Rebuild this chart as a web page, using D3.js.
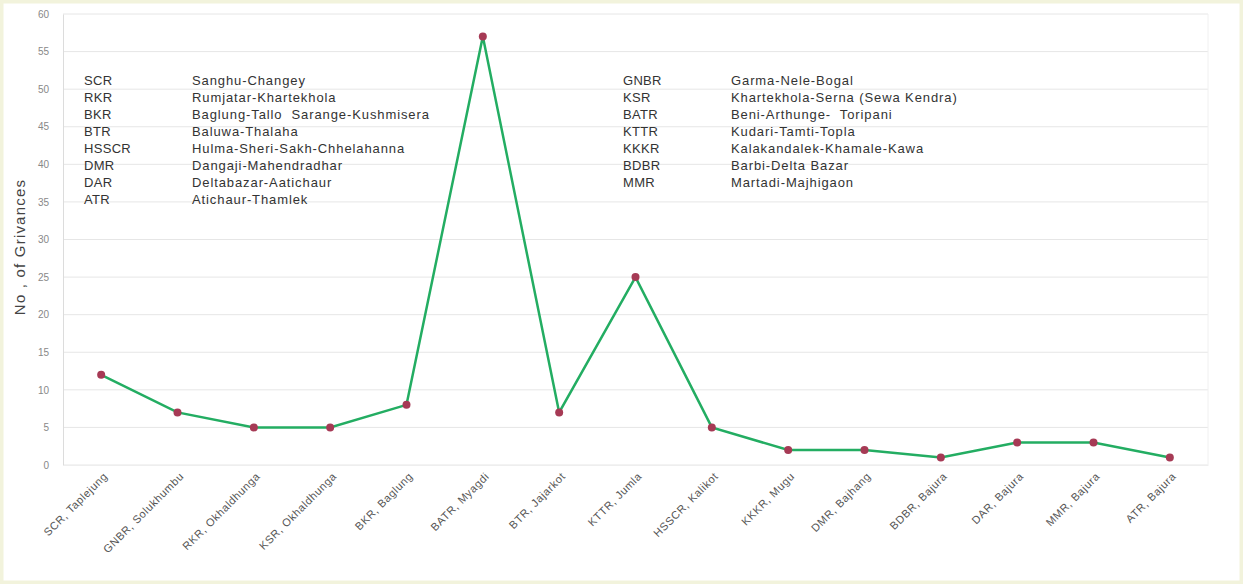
<!DOCTYPE html>
<html>
<head>
<meta charset="utf-8">
<script src="https://cdn.jsdelivr.net/npm/d3@7"></script>
<style>
  body { margin: 0; background: #fff; }
  svg { display: block; font-family: "Liberation Sans", Arial, sans-serif; }
</style>
</head>
<body>
<div id="chart"></div>
<script>
const categories = ["SCR, Taplejung", "GNBR, Solukhumbu", "RKR, Okhaldhunga", "KSR, Okhaldhunga",
  "BKR, Baglung", "BATR, Myagdi", "BTR, Jajarkot", "KTTR, Jumla", "HSSCR, Kalikot",
  "KKKR, Mugu", "DMR, Bajhang", "BDBR, Bajura", "DAR, Bajura", "MMR, Bajura", "ATR, Bajura"];
const grievances = [12, 7, 5, 5, 8, 57, 7, 25, 5, 2, 2, 1, 3, 3, 1];
const yTicks = [0, 5, 10, 15, 20, 25, 30, 35, 40, 45, 50, 55, 60];

const leftCodes = ["SCR", "RKR", "BKR", "BTR", "HSSCR", "DMR", "DAR", "ATR"];
const leftNames = ["Sanghu-Changey", "Rumjatar-Khartekhola", "Baglung-Tallo  Sarange-Kushmisera",
  "Baluwa-Thalaha", "Hulma-Sheri-Sakh-Chhelahanna", "Dangaji-Mahendradhar",
  "Deltabazar-Aatichaur", "Atichaur-Thamlek"];
const rightCodes = ["GNBR", "KSR", "BATR", "KTTR", "KKKR", "BDBR", "MMR"];
const rightNames = ["Garma-Nele-Bogal", "Khartekhola-Serna (Sewa Kendra)", "Beni-Arthunge-  Toripani",
  "Kudari-Tamti-Topla", "Kalakandalek-Khamale-Kawa", "Barbi-Delta Bazar", "Martadi-Majhigaon"];

const width = 1243, height = 584;
const margin = {top: 14, right: 35, bottom: 119, left: 63};

const svg = d3.select("#chart").append("svg")
  .attr("width", width)
  .attr("height", height);

// outer frame
svg.append("rect")
  .attr("x", 1.5).attr("y", 1.5)
  .attr("width", width - 3).attr("height", height - 3)
  .attr("fill", "#fff")
  .attr("stroke", "#f2f3dc")
  .attr("stroke-width", 4);

const x = d3.scaleBand()
  .domain(categories)
  .range([margin.left, width - margin.right]);

const y = d3.scaleLinear()
  .domain([0, 60])
  .range([height - margin.bottom, margin.top]);

// gridlines
svg.append("g")
  .selectAll("line")
  .data(yTicks)
  .enter()
  .append("line")
  .attr("x1", margin.left)
  .attr("x2", width - margin.right)
  .attr("y1", d => y(d))
  .attr("y2", d => y(d))
  .attr("stroke", "#e6e6e6")
  .attr("stroke-width", 1);

// right edge of plot
svg.append("line")
  .attr("x1", width - margin.right).attr("x2", width - margin.right)
  .attr("y1", margin.top).attr("y2", height - margin.bottom)
  .attr("stroke", "#f0f0f0");

// y axis
const yAxis = svg.append("g")
  .attr("transform", `translate(${margin.left},0)`)
  .call(d3.axisLeft(y).tickValues(yTicks).tickSize(0).tickPadding(14));
yAxis.select(".domain").attr("stroke", "#dcdcdc");
yAxis.selectAll("text").attr("fill", "#888").attr("font-size", 10);

svg.append("text")
  .attr("transform", `translate(25,247) rotate(-90)`)
  .attr("text-anchor", "middle")
  .attr("font-size", 15)
  .attr("letter-spacing", 1.2)
  .attr("fill", "#444")
  .text("No , of Grivances");

// x axis labels
const xAxis = svg.append("g")
  .attr("transform", `translate(0,${height - margin.bottom})`)
  .call(d3.axisBottom(x).tickSize(0).tickPadding(0));
xAxis.select(".domain").attr("stroke", "#eeeeee");
xAxis.selectAll("text")
  .attr("font-size", 11)
  .attr("letter-spacing", 0.6)
  .attr("fill", "#555")
  .attr("text-anchor", "end")
  .attr("dy", 0)
  .attr("transform", "translate(7,12) rotate(-45)");

// line
const line = d3.line()
  .x((d, i) => x(categories[i]) + x.bandwidth() / 2)
  .y(d => y(d));

svg.append("path")
  .datum(grievances)
  .attr("d", line)
  .attr("fill", "none")
  .attr("stroke", "#23ad62")
  .attr("stroke-width", 2.5);

svg.selectAll("circle.pt")
  .data(grievances)
  .enter()
  .append("circle")
  .attr("class", "pt")
  .attr("cx", (d, i) => x(categories[i]) + x.bandwidth() / 2)
  .attr("cy", d => y(d))
  .attr("r", 4)
  .attr("fill", "#a63a55");

// abbreviation key
function key(codes, names, cx, nx) {
  const g = svg.append("g").attr("font-size", 13).attr("fill", "#333");
  g.selectAll("text.code")
    .data(codes).enter().append("text")
    .attr("x", cx).attr("y", (d, i) => 85 + i * 17)
    .attr("letter-spacing", 0.3)
    .text(d => d);
  g.selectAll("text.name")
    .data(names).enter().append("text")
    .attr("x", nx).attr("y", (d, i) => 85 + i * 17)
    .attr("letter-spacing", 0.9)
    .style("white-space", "pre")
    .text(d => d);
}
key(leftCodes, leftNames, 84, 192);
key(rightCodes, rightNames, 623, 731);
</script>
</body>
</html>
